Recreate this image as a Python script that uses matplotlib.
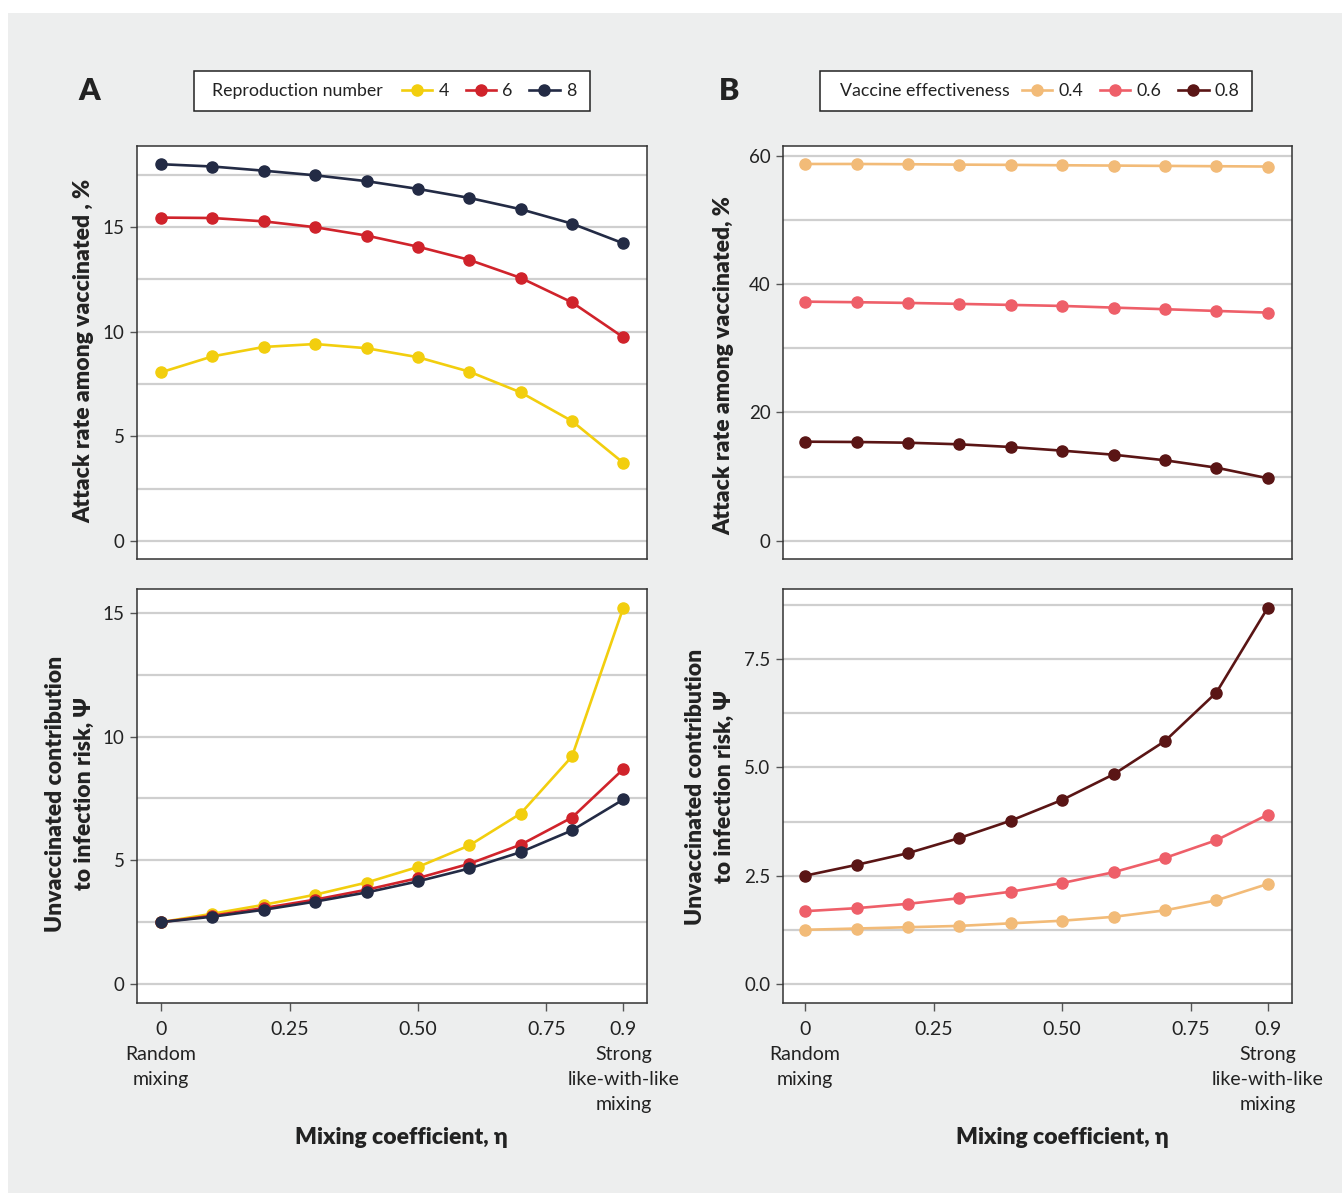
import matplotlib
matplotlib.use("Agg")
import matplotlib.pyplot as plt
import matplotlib.patches as patches
from matplotlib.lines import Line2D
import numpy as np

plt.rcParams["font.family"] = ["Lato", "DejaVu Sans"]

# data
eta = [0.0, 0.1, 0.2, 0.3, 0.4, 0.5, 0.6, 0.7, 0.8, 0.9]

repro_labels = ["4", "6", "8"]
repro_colors = ["#F2CE0E", "#D0232B", "#232B45"]
attack_r4 = [8.06, 8.82, 9.27, 9.41, 9.21, 8.78, 8.09, 7.10, 5.73, 3.73]
attack_r6 = [15.45, 15.43, 15.27, 14.99, 14.59, 14.06, 13.43, 12.57, 11.40, 9.73]
attack_r8 = [18.00, 17.89, 17.69, 17.47, 17.19, 16.82, 16.39, 15.85, 15.16, 14.22]
psi_r4 = [2.50, 2.84, 3.20, 3.61, 4.10, 4.73, 5.60, 6.89, 9.20, 15.22]
psi_r6 = [2.50, 2.76, 3.07, 3.41, 3.81, 4.28, 4.86, 5.63, 6.73, 8.69]
psi_r8 = [2.50, 2.72, 3.00, 3.33, 3.70, 4.15, 4.67, 5.33, 6.21, 7.46]

ve_labels = ["0.4", "0.6", "0.8"]
ve_colors = ["#F2BB78", "#EE5F69", "#5A1515"]
attack_ve04 = [58.70, 58.70, 58.66, 58.60, 58.56, 58.50, 58.45, 58.40, 58.35, 58.30]
attack_ve06 = [37.25, 37.16, 37.05, 36.90, 36.74, 36.58, 36.32, 36.07, 35.80, 35.54]
attack_ve08 = [15.43, 15.38, 15.27, 15.02, 14.60, 14.03, 13.40, 12.53, 11.38, 9.73]
psi_ve04 = [1.25, 1.28, 1.31, 1.34, 1.40, 1.46, 1.55, 1.70, 1.93, 2.31]
psi_ve06 = [1.68, 1.75, 1.85, 1.98, 2.13, 2.33, 2.58, 2.91, 3.32, 3.91]
psi_ve08 = [2.50, 2.75, 3.02, 3.37, 3.77, 4.25, 4.84, 5.61, 6.73, 8.69]

xtick_vals = [0, 0.25, 0.5, 0.75, 0.9]
xtick_text = ["0\nRandom\nmixing", "0.25", "0.50", "0.75", "0.9\nStrong\nlike-with-like\nmixing"]

W, H = 1342, 1193
fig = plt.figure(figsize=(W / 100, H / 100), dpi=100)
fig.patch.set_facecolor("white")
fig.add_artist(patches.Rectangle((8 / W, 0), 1 - 8 / W, 1 - 13 / H, transform=fig.transFigure,
                                 facecolor="#EDEEEE", edgecolor="none", zorder=-10))


def box(x0, y0, x1, y1):
    # pixel box (top-origin) -> figure fraction rect
    return [x0 / W, 1 - y1 / H, (x1 - x0) / W, (y1 - y0) / H]


def style_axes(ax, ylim, major, minor, bottom):
    ax.set_facecolor("white")
    ax.set_xlim(-0.047, 0.946)
    ax.set_ylim(*ylim)
    ax.set_yticks(major)
    ax.set_yticks(minor, minor=True)
    ax.grid(True, which="both", axis="y", color="#CFCFCF", lw=1.6, zorder=0)
    ax.set_axisbelow(True)
    ax.tick_params(axis="y", which="major", length=5, width=1, color="#555555",
                   labelsize=13.5, labelcolor="#222222", pad=4)
    ax.tick_params(axis="y", which="minor", length=0)
    for s in ax.spines.values():
        s.set_color("#333333")
        s.set_linewidth(1.1)
    if bottom:
        ax.set_xticks(xtick_vals)
        ax.set_xticklabels(xtick_text, fontsize=14, color="#222222", linespacing=1.58)
        ax.tick_params(axis="x", length=6, width=1, color="#555555", pad=7)
    else:
        ax.set_xticks([])


def draw(ax, series, colors):
    for ys, c in zip(series, colors):
        ax.plot(eta, ys, color=c, lw=1.9, marker="o", markersize=8, zorder=3)


axA1 = fig.add_axes(box(137, 146, 647, 559))
axA2 = fig.add_axes(box(137, 589, 647, 1003))
axB1 = fig.add_axes(box(783, 146, 1292, 559))
axB2 = fig.add_axes(box(783, 589, 1292, 1003))

draw(axA1, [attack_r4, attack_r6, attack_r8], repro_colors)
draw(axA2, [psi_r4, psi_r6, psi_r8], repro_colors)
draw(axB1, [attack_ve08, attack_ve06, attack_ve04], ve_colors[::-1])
draw(axB2, [psi_ve08, psi_ve06, psi_ve04], ve_colors[::-1])

style_axes(axA1, (-0.86, 18.87), [0, 5, 10, 15], [2.5, 7.5, 12.5, 17.5], False)
style_axes(axA2, (-0.77, 15.97), [0, 5, 10, 15], [2.5, 7.5, 12.5], True)
style_axes(axB1, (-2.85, 61.5), [0, 20, 40, 60], [10, 30, 50], False)
style_axes(axB2, (-0.44, 9.12), [0, 2.5, 5, 7.5], [1.25, 3.75, 6.25, 8.75], True)
axB2.set_yticklabels(["0.0", "2.5", "5.0", "7.5"])
axB1.set_xlim(-0.043, 0.947)
axB2.set_xlim(-0.043, 0.947)

# axis titles
lab = dict(fontsize=16.5, fontweight="heavy", color="#222222", ha="center", va="center")
fig.text(84 / W, 1 - 351 / H, "Attack rate among vaccinated , %", rotation=90, **lab)
fig.text(724 / W, 1 - 366 / H, "Attack rate among vaccinated, %", rotation=90, **lab)
fig.text(70 / W, 1 - 794 / H, "Unvaccinated contribution\nto infection risk, Ψ", rotation=90,
         linespacing=1.45, **lab)
fig.text(710 / W, 1 - 787 / H, "Unvaccinated contribution\nto infection risk, Ψ", rotation=90,
         linespacing=1.45, **lab)
fig.text(401 / W, 1 - 1137 / H, "Mixing coefficient, η", **lab)
fig.text(1062 / W, 1 - 1137 / H, "Mixing coefficient, η", **lab)

# panel letters
fig.text(89 / W, 1 - 91 / H, "A", fontsize=22, fontweight="heavy", color="#222222", ha="center", va="center")
fig.text(729 / W, 1 - 91 / H, "B", fontsize=22, fontweight="heavy", color="#222222", ha="center", va="center")


def legend_box(x0, x1, title, title_x, handles_x, labels, colors):
    fig.add_artist(patches.Rectangle((x0 / W, 1 - 111 / H), (x1 - x0) / W, 40 / H,
                                     transform=fig.transFigure, facecolor="white",
                                     edgecolor="#222222", lw=1.1, zorder=5))
    fig.text(title_x / W, 1 - 91 / H, title, fontsize=12.8, color="#222222",
             ha="left", va="center", zorder=6)
    hs = [Line2D([], [], color=c, lw=1.9, marker="o", markersize=8) for c in colors]
    leg = fig.legend(hs, labels, loc="center left", bbox_to_anchor=(handles_x / W, 1 - 91 / H),
                     ncol=3, frameon=False, fontsize=12.8, borderpad=0, borderaxespad=0,
                     handlelength=1.7, handletextpad=0.35, columnspacing=0.95)
    leg.set_zorder(7)
    for t in leg.get_texts():
        t.set_color("#222222")


legend_box(194, 590, "Reproduction number", 212, 402, repro_labels, repro_colors)
legend_box(820, 1252, "Vaccine effectiveness", 840, 1022, ve_labels, ve_colors)

fig.savefig("out.png", dpi=100, facecolor=fig.get_facecolor())
